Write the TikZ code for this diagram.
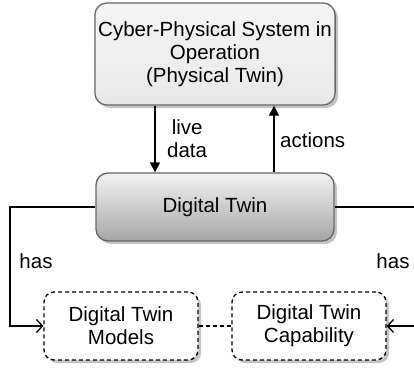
\documentclass[tikz,border=0pt]{standalone}
\usepackage{fontspec}
\setmainfont{Liberation Sans}
\usetikzlibrary{arrows.meta,shadows}
\definecolor{edgegray}{HTML}{666666}
\definecolor{shadegray}{HTML}{C4C4C4}
\tikzset{
  x=1pt, y=-1pt,
  txt/.style={font=\fontsize{20.5}{23}\selectfont},
  box/.style={draw=edgegray, line width=1.3pt, rounded corners=12pt,
    align=center, txt,
    drop shadow={shadow xshift=3pt, shadow yshift=-3pt, fill=shadegray, opacity=1}},
  cpsbox/.style={box, top color=white!96!black, bottom color=white!91!black,
    minimum width=238pt, minimum height=102pt},
  dtbox/.style={box, top color=white!95!black, bottom color=white!65!black,
    minimum width=238pt, minimum height=68pt},
  partbox/.style={draw=black, line width=1.3pt, dash pattern=on 4pt off 3pt,
    rounded corners=10pt, fill=white, align=center, txt,
    minimum width=154pt, minimum height=68pt,
    drop shadow={shadow xshift=3pt, shadow yshift=-3pt, fill=shadegray, opacity=1}},
  link/.style={line width=1.3pt},
  flow/.style={link, -{Triangle[length=10pt,width=10pt]}},
  has/.style={link, -{Straight Barb[length=6pt,width=13pt,line width=1.3pt]}},
  lbl/.style={txt, align=center, inner sep=0pt}
}
\begin{document}
\begin{tikzpicture}
\useasboundingbox (0,0) rectangle (414,368);

\node[cpsbox] (cps) at (215,54) {Cyber-Physical System in\\Operation\\(Physical Twin)};
\node[dtbox] (dt) at (215,207) {Digital Twin};
\node[partbox] (models) at (121,326) {Digital Twin\\Models};
\node[partbox] (cap) at (309,326) {Digital Twin\\Capability};

% data exchange between the physical and the digital twin
\draw[flow] (cps.south -| 155,0) -- (dt.north -| 155,0);
\node[lbl, anchor=west] (livedata) at (167,139) {live\\data};
\draw[flow] (dt.north -| 274,0) -- (cps.south -| 274,0);
\node[lbl, anchor=west] (actions) at (280,140) {actions};

% composition links
\coordinate (lturn) at (10,207);
\coordinate (rfar) at (416,207);
\coordinate (rin) at (416,326);
\draw[link] (dt.west) -- (lturn) |- (models.west);
\draw[has] (lturn |- models.west) -- (models.west);
\draw[link] (dt.east) -- (rfar);
\draw[has] (rin) -- (cap.east);
\node[lbl] (hasl) at (36,261) {has};
\node[lbl] (hasr) at (393,261) {has};

% association between models and capability
\draw[link, dash pattern=on 4pt off 3pt] (models.east) -- (cap.west);
\end{tikzpicture}
\end{document}
